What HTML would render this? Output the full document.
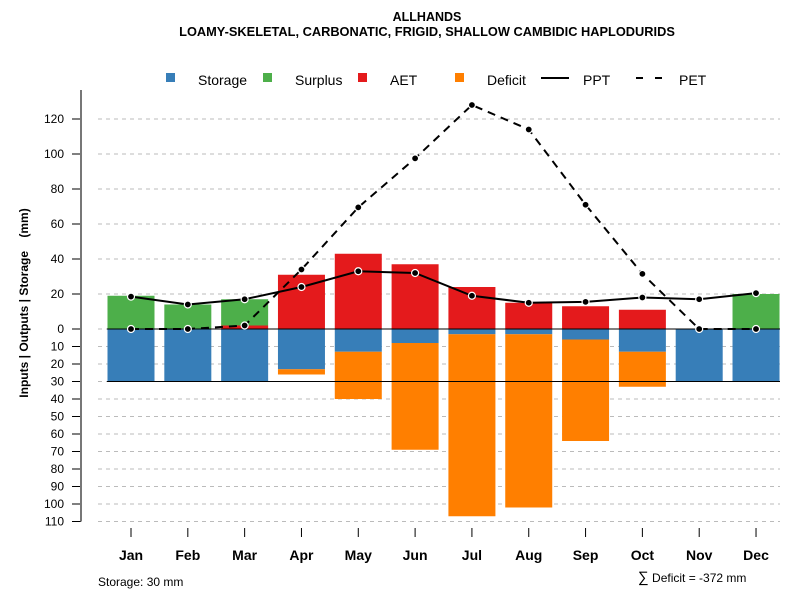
<!DOCTYPE html>
<html><head><meta charset="utf-8"><style>
body{margin:0;background:#fff}
svg{display:block;font-family:"Liberation Sans",Arial,sans-serif}
</style></head><body>
<svg id="chart" width="800" height="600" viewBox="0 0 800 600">
<text x="427" y="21" text-anchor="middle" font-size="12.5" font-weight="bold">ALLHANDS</text>
<text x="427" y="36" text-anchor="middle" font-size="12.8" font-weight="bold">LOAMY-SKELETAL, CARBONATIC, FRIGID, SHALLOW CAMBIDIC HAPLODURIDS</text>
<g id="grid"></g>
<g id="bars"></g>
<g id="lines"></g>
<g id="axes"></g>
<text transform="translate(28,303) rotate(-90)" text-anchor="middle" font-size="12" font-weight="bold" style="white-space:pre">Inputs | Outputs | Storage&#160;&#160;&#160;&#160;(mm)</text>
<g font-size="14">
<rect x="166" y="73" width="9" height="9" fill="#377eb8"/>
<text x="198" y="85">Storage</text>
<rect x="263" y="73" width="9" height="9" fill="#4daf4a"/>
<text x="295" y="85">Surplus</text>
<rect x="358" y="73" width="9" height="9" fill="#e41a1c"/>
<text x="390" y="85">AET</text>
<rect x="455" y="73" width="9" height="9" fill="#ff7f00"/>
<text x="487" y="85">Deficit</text>
<line x1="541" y1="78" x2="569" y2="78" stroke="#000" stroke-width="2"/>
<text x="583" y="85">PPT</text>
<line x1="636" y1="78" x2="662" y2="78" stroke="#000" stroke-width="2" stroke-dasharray="7,12"/>
<text x="679" y="85">PET</text>
</g>
<text x="98" y="586" font-size="12">Storage: 30 mm</text>
<text x="638" y="582" font-size="12"><tspan font-size="15">∑</tspan> Deficit = -372 mm</text>
</svg>
<script>
const months=["Jan","Feb","Mar","Apr","May","Jun","Jul","Aug","Sep","Oct","Nov","Dec"];
const storageDraw=[30,30,30,23,13,8,3,3,6,13,30,30];
const deficit=[0,0,0,3,27,61,104,99,58,20,0,0];
const surplus=[19,14,15,0,0,0,0,0,0,0,0,20];
const aet=[0,0,2,31,43,37,24,15,13,11,0,0];
const ppt=[18.5,14,17,24,33,32,19,15,15.5,18,17,20.5];
const pet=[0,0,2,34,69.5,97.5,128,114,71,31.5,0,0];
const posTicks=[0,20,40,60,80,100,120];
const negTicks=[10,20,30,40,50,60,70,80,90,100,110];
const storageCap=30;

const NS="http://www.w3.org/2000/svg";
const y0=329, k=1.75;
const yUp=v=>y0-v*k, yDn=v=>y0+v*k;
const xc=i=>131+i*56.82;
const bw=47;
function mk(tag,attrs,parent){const e=document.createElementNS(NS,tag);for(const a in attrs)e.setAttribute(a,attrs[a]);document.getElementById(parent).appendChild(e);return e;}

posTicks.forEach(t=>{
 const g=mk("line",{x1:98,x2:780,y1:yUp(t),y2:yUp(t),stroke:"#bbb","stroke-dasharray":"4,4"},"grid");
 
 
 const tk=mk("line",{x1:72,x2:81,y1:yUp(t),y2:yUp(t),stroke:"#000"},"axes");
 
 
 const tx=mk("text",{x:64,y:yUp(t)+4,"text-anchor":"end","font-size":"12"},"axes");tx.textContent=t;
 
 
});
negTicks.forEach(t=>{
 const g=mk("line",{x1:98,x2:780,y1:yDn(t),y2:yDn(t),stroke:"#bbb","stroke-dasharray":"4,4"},"grid");
 
 
 const tk=mk("line",{x1:72,x2:81,y1:yDn(t),y2:yDn(t),stroke:"#000"},"axes");
 
 
 const tx=mk("text",{x:64,y:yDn(t)+4,"text-anchor":"end","font-size":"12"},"axes");tx.textContent=t;
 
 
});
const ax=mk("line",{x1:81,x2:81,y1:90,y2:yDn(110),stroke:"#777","stroke-width":"2"},"axes");



months.forEach((m,i)=>{
 const x=xc(i);
 function bar(yA,yB,fill,name){
  const r=mk("rect",{x:x-bw/2,y:Math.min(yA,yB),width:bw,height:Math.abs(yB-yA),fill:fill},"bars");
  
  
 }
 if(storageDraw[i]>0)bar(yDn(0),yDn(storageDraw[i]),"#377eb8","bar-storage-"+m.toLowerCase());
 if(deficit[i]>0)bar(yDn(storageDraw[i]),yDn(storageDraw[i]+deficit[i]),"#ff7f00","bar-deficit-"+m.toLowerCase());
 if(aet[i]>0)bar(yUp(0),yUp(aet[i]),"#e41a1c","bar-aet-"+m.toLowerCase());
 if(surplus[i]>0)bar(yUp(aet[i]),yUp(aet[i]+surplus[i]),"#4daf4a","bar-surplus-"+m.toLowerCase());
 const tk=mk("line",{x1:x,x2:x,y1:528,y2:537,stroke:"#000"},"axes");
 
 
 const tx=mk("text",{x:x,y:560,"text-anchor":"middle","font-size":"14","font-weight":"bold"},"axes");tx.textContent=m;
 
 
});
const zl=mk("line",{x1:107,x2:780,y1:y0,y2:y0,stroke:"#000"},"lines");


const sl=mk("line",{x1:107,x2:780,y1:yDn(storageCap),y2:yDn(storageCap),stroke:"#000"},"lines");



function series(vals,dash,name){
 const p=mk("polyline",{points:vals.map((v,i)=>xc(i)+","+yUp(v)).join(" "),fill:"none",stroke:"#000","stroke-width":"2","stroke-dasharray":dash},"lines");
 
 
 vals.forEach((v,i)=>{
  const c=mk("circle",{cx:xc(i),cy:yUp(v),r:3.5,fill:"#000",stroke:"#fff","stroke-width":"1.2"},"lines");
  
  
 });
}
series(pet,"8,6","pet");
series(ppt,"none","ppt");
</script>
</body></html>
